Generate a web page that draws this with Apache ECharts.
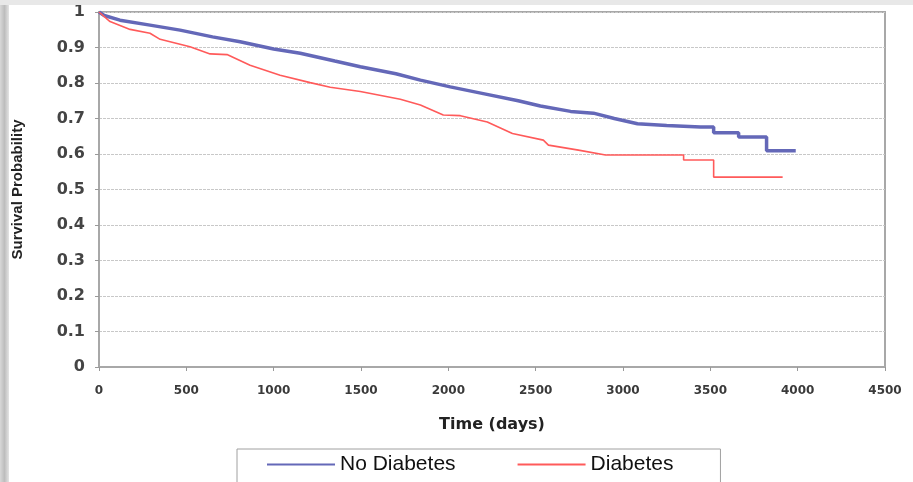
<!DOCTYPE html>
<html>
<head>
<meta charset="utf-8">
<script src="https://cdn.jsdelivr.net/npm/echarts@6/dist/echarts.min.js"></script>
<style>html,body{margin:0;padding:0;background:#fff;}#c{width:913px;height:482px;}</style>
</head>
<body>
<div id="c"></div>
<script>
var seriesNames = ['No Diabetes', 'Diabetes'];
var noDiabetesDays = [0, 30, 120, 292, 464, 650, 808, 1000, 1152, 1350, 1496, 1700, 1840, 2011, 2200, 2400, 2527, 2700, 2831, 2950, 3083, 3250, 3444, 3519, 3519, 3662, 3662, 3822, 3822, 3989];
var noDiabetesSurv = [1.0, 0.99, 0.977, 0.963, 0.949, 0.93, 0.916, 0.896, 0.884, 0.862, 0.846, 0.826, 0.808, 0.789, 0.77, 0.75, 0.735, 0.72, 0.715, 0.70, 0.685, 0.68, 0.676, 0.676, 0.66, 0.66, 0.648, 0.648, 0.609, 0.609];
var diabetesDays = [0, 63, 178, 292, 350, 521, 636, 733, 865, 1037, 1209, 1324, 1496, 1725, 1840, 1971, 2069, 2223, 2367, 2544, 2573, 2745, 2900, 3347, 3347, 3519, 3519, 3914];
var diabetesSurv = [1.0, 0.973, 0.951, 0.94, 0.923, 0.902, 0.882, 0.88, 0.85, 0.822, 0.801, 0.788, 0.776, 0.754, 0.738, 0.71, 0.708, 0.69, 0.658, 0.639, 0.625, 0.611, 0.597, 0.597, 0.583, 0.583, 0.535, 0.535];
var xTicks = [0, 500, 1000, 1500, 2000, 2500, 3000, 3500, 4000, 4500];
var yTicks = [0, 0.1, 0.2, 0.3, 0.4, 0.5, 0.6, 0.7, 0.8, 0.9, 1];

function pairs(xs, ys) { return xs.map(function (x, i) { return [x, ys[i]]; }); }

var chart = echarts.init(document.getElementById('c'), null, {renderer: 'canvas'});
chart.setOption({
  backgroundColor: '#ffffff',
  animation: false,
  graphic: [
    {type: 'rect', shape: {x: 0, y: 0, width: 913, height: 5}, style: {fill: '#e8e8e8'}, z: 100},
    {type: 'rect', shape: {x: 0, y: 5, width: 9, height: 477}, style: {fill: new echarts.graphic.LinearGradient(0, 0, 1, 0, [{offset: 0, color: '#d8d8d8'}, {offset: 0.5, color: '#bdbdbd'}, {offset: 1, color: '#e4e4e4'}])}, z: 100}
  ],
  grid: {left: 99, right: 28, top: 12, bottom: 115, show: true, borderColor: '#a8a8a8', borderWidth: 2, backgroundColor: 'transparent'},
  legend: {
    data: seriesNames,
    left: 237, top: 449,
    padding: [5, 47, 10, 30],
    itemGap: 62,
    itemWidth: 68, itemHeight: 14,
    borderColor: '#a0a0a0', borderWidth: 1,
    textStyle: {fontFamily: 'Liberation Sans Narrow, Liberation Sans', fontSize: 21, color: '#111'},
    icon: 'path://M0,6 L68,6 L68,8 L0,8 Z'
  },
  xAxis: {
    type: 'value', min: 0, max: 4500, interval: 500,
    name: 'Time (days)', nameLocation: 'middle', nameGap: 50,
    nameTextStyle: {fontFamily: 'DejaVu Sans', fontWeight: 'bold', fontSize: 16, color: '#222'},
    axisLine: {show: true, lineStyle: {color: '#a8a8a8', width: 2}},
    axisTick: {show: true, length: 4, lineStyle: {color: '#999'}},
    axisLabel: {fontFamily: 'DejaVu Sans', fontWeight: 'bold', fontSize: 12, color: '#3a3a3a', margin: 18,
      formatter: function (v) { return xTicks.indexOf(v) >= 0 ? String(v) : ''; }},
    splitLine: {show: false}
  },
  yAxis: {
    type: 'value', min: 0, max: 1, interval: 0.1,
    name: 'Survival Probability', nameLocation: 'middle', nameGap: 74, nameRotate: 90,
    nameTextStyle: {fontFamily: 'Liberation Sans Narrow, Liberation Sans', fontWeight: 'bold', fontSize: 15, color: '#222'},
    axisLine: {show: true, lineStyle: {color: '#a8a8a8', width: 2}},
    axisTick: {show: true, length: 4, lineStyle: {color: '#999'}},
    axisLabel: {fontFamily: 'DejaVu Sans', fontWeight: 'bold', fontSize: 16, color: '#444', margin: 14,
      formatter: function (v) { var r = Math.round(v * 10) / 10; return yTicks.indexOf(r) >= 0 ? String(r) : ''; }},
    splitLine: {show: true, lineStyle: {color: '#c8c8c8', width: 1, type: [3, 1]}}
  },
  series: [
    {name: seriesNames[0], type: 'line', showSymbol: false, symbol: 'none',
      data: pairs(noDiabetesDays, noDiabetesSurv),
      lineStyle: {color: '#6468b8', width: 3.5}, itemStyle: {color: '#6468b8'}, z: 3},
    {name: seriesNames[1], type: 'line', showSymbol: false, symbol: 'none',
      data: pairs(diabetesDays, diabetesSurv),
      lineStyle: {color: '#ff5a5a', width: 1.6}, itemStyle: {color: '#ff5a5a'}, z: 4}
  ]
});
</script>
</body>
</html>
